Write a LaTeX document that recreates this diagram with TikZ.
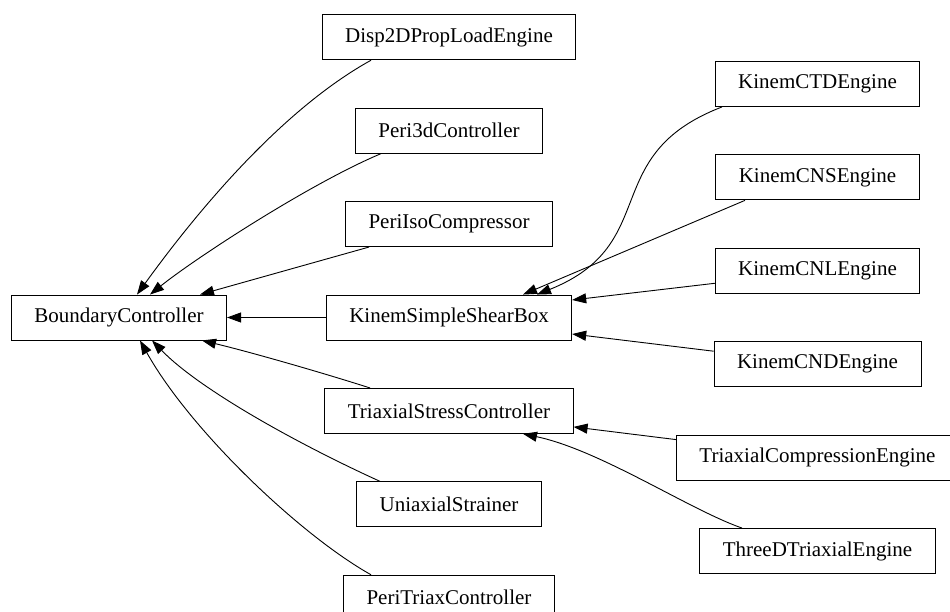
\documentclass[tikz,border=0pt]{standalone}
\usepackage{fontspec}
\setmainfont{Liberation Serif}
\usepackage{tikz}
\usetikzlibrary{arrows.meta}
\tikzstyle{cls}=[rectangle,draw,line width=0.9pt,minimum height=45pt,inner xsep=23pt,font=\fontsize{21}{25}\selectfont]
\tikzstyle{inh}=[line width=0.9pt,-{Triangle[length=14pt,width=10pt]}]

\begin{document}
\begin{tikzpicture}[x=1pt,y=-1pt]
        \path[use as bounding box,clip] (0,0) rectangle (950,612);
        \tikzstyle{every node}=[cls]
        \tikzstyle{level 1}=[level distance=330pt,sibling distance=93.4pt]
        \tikzstyle{level 2}=[level distance=368.5pt,sibling distance=93.4pt]
        \tikzstyle{edge from parent}=[draw=none]
        \node (bc) at (119,317.5) {BoundaryController} [grow'=right]
        child { node (disp) {Disp2DPropLoadEngine} }
        child { node (p3d) {Peri3dController} }
        child { node (piso) {PeriIsoCompressor} }
        child { node (kssb) {KinemSimpleShearBox}
            child { node (ctd) {KinemCTDEngine} }
            child { node (cns) {KinemCNSEngine} }
            child { node (cnl) {KinemCNLEngine} }
            child { node (cnd) {KinemCNDEngine} }
            child[missing]
            child[missing]
        }
        child { node (tsc) {TriaxialStressController}
            child[missing]
            child[missing]
            child { node (tce) {TriaxialCompressionEngine} }
            child { node (t3d) {ThreeDTriaxialEngine} }
        }
        child { node (uni) {UniaxialStrainer} }
        child { node (ptc) {PeriTriaxController} };

        \draw[inh] ([xshift=-78pt]disp.south) .. controls (281,110) and (196,213) .. ([xshift=18pt]bc.north);
        \draw[inh] ([xshift=-68pt]p3d.south) .. controls (311,183) and (197,257) .. ([xshift=31pt]bc.north);
        \draw[inh] ([xshift=-80pt]piso.south) -- ([xshift=81pt]bc.north);
        \draw[inh] (kssb) -- (bc);
        \draw[inh] ([xshift=-79pt]tsc.north) .. controls (320,372) and (250,352) .. ([xshift=83pt]bc.south);
        \draw[inh] ([xshift=-69pt]uni.north) .. controls (300,445) and (200,390) .. ([xshift=33pt]bc.south);
        \draw[inh] ([xshift=-78pt]ptc.north) .. controls (300,535) and (190,430) .. ([xshift=21pt]bc.south);
        \draw[inh] ([xshift=-95.5pt]ctd.south) .. controls (597,155) and (663,244) .. ([xshift=88pt]kssb.north);
        \draw[inh] ([xshift=-72.5pt]cns.south) -- ([xshift=74pt]kssb.north);
        \draw[inh] ([yshift=-12.5pt]cnl.west) -- ([yshift=17.5pt]kssb.east);
        \draw[inh] ([yshift=13pt]cnd.west) -- ([yshift=-16.5pt]kssb.east);
        \draw[inh] ([yshift=18pt]tce.west) -- ([yshift=-16pt]tsc.east);
        \draw[inh] ([xshift=-75.5pt]t3d.north) .. controls (690,510) and (600,450) .. ([xshift=74pt]tsc.south);
\end{tikzpicture}
\end{document}
